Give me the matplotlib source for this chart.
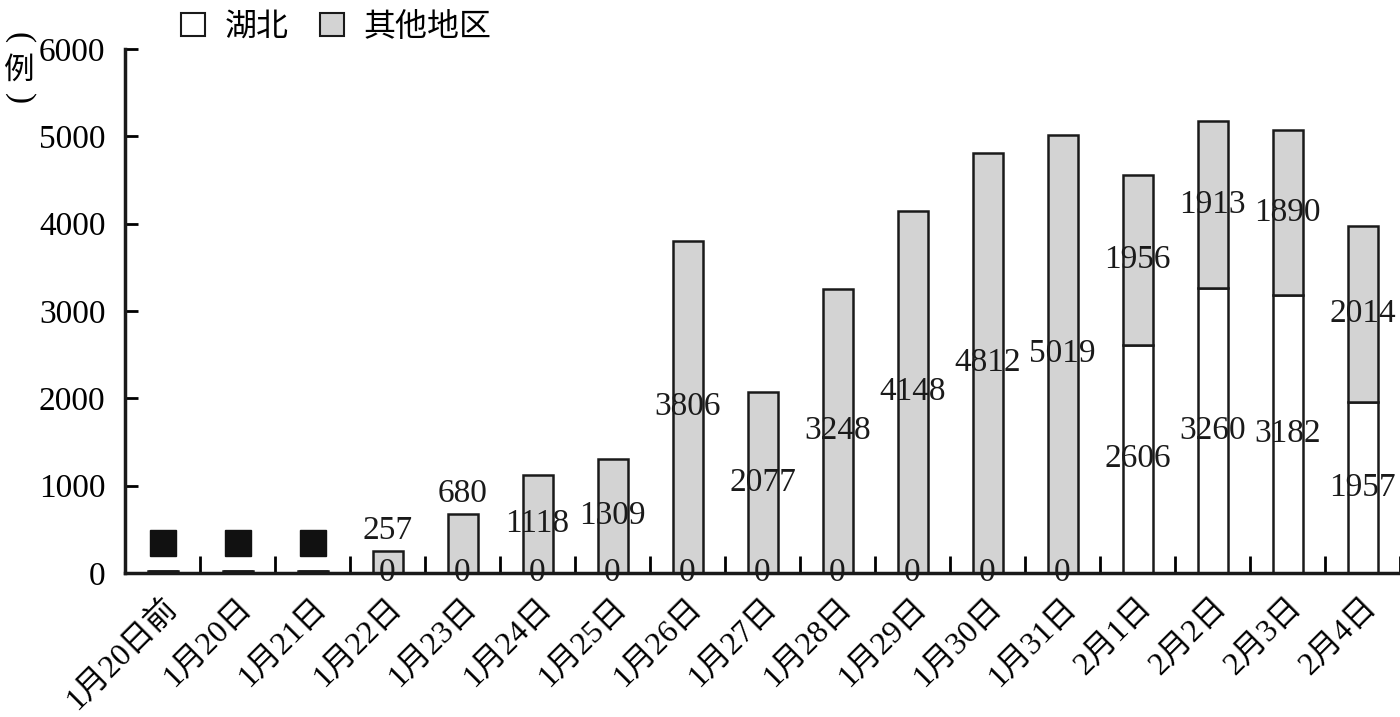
import matplotlib
matplotlib.use("Agg")
import matplotlib.pyplot as plt
from matplotlib.patches import Patch
from matplotlib.ticker import FixedLocator, NullFormatter

categories = ["1月20日前", "1月20日", "1月21日", "1月22日", "1月23日", "1月24日",
              "1月25日", "1月26日", "1月27日", "1月28日", "1月29日", "1月30日",
              "1月31日", "2月1日", "2月2日", "2月3日", "2月4日"]
hubei = [25, 25, 25, 0, 0, 0, 0, 0, 0, 0, 0, 0, 0, 2606, 3260, 3182, 1957]
others = [0, 0, 0, 257, 680, 1118, 1309, 3806, 2077, 3248, 4148, 4812, 5019,
          1956, 1913, 1890, 2014]
labelled = [False, False, False] + [True] * 14
redacted_y = [345, 345, 345]
yticks = [0, 1000, 2000, 3000, 4000, 5000, 6000]

serif = ["Liberation Serif", "Noto Sans CJK SC"]
plt.rcParams["font.family"] = serif

fig = plt.figure(figsize=(14, 7.17), dpi=100)
ax = fig.add_axes([0.0893, 0.2008, 0.9107, 0.7309])

x = list(range(len(categories)))
w = 0.4
ax.bar(x, hubei, width=w, color="white", edgecolor="#1a1a1a", linewidth=1.8, zorder=2)
ax.bar(x, others, width=w, bottom=hubei, color="#d3d3d3", edgecolor="#1a1a1a",
       linewidth=1.8, zorder=2)

fs = 24
for i in x:
    if not labelled[i]:
        continue
    h, o = hubei[i], others[i]
    ax.text(i, h / 2, str(h), ha="center", va="center", fontsize=fs,
            color="#1a1a1a", zorder=4)
    if o < 1000:
        ax.annotate(str(o), (i, h + o), xytext=(0, 3), textcoords="offset points",
                    ha="center", va="bottom", fontsize=fs, color="#1a1a1a", zorder=4)
    else:
        ax.text(i, h + o / 2, str(o), ha="center", va="center", fontsize=fs,
                color="#1a1a1a", zorder=4)

ax.plot(x[:3], redacted_y, linestyle="none", marker="s", markersize=19,
        color="#111111", zorder=5)

ax.set_xlim(-0.5, len(categories) - 0.5)
ax.set_ylim(0, 6000)
ax.set_yticks(yticks)
ax.set_yticklabels([str(v) for v in yticks], fontsize=fs)
ax.tick_params(axis="y", direction="in", length=9, width=2, pad=14)

ax.set_xticks(x)
ax.set_xticklabels(categories, rotation=45, ha="right", rotation_mode="anchor",
                   fontsize=23)
ax.tick_params(axis="x", which="major", length=0, pad=14)
ax.xaxis.set_minor_locator(FixedLocator([i + 0.5 for i in x]))
ax.xaxis.set_minor_formatter(NullFormatter())
ax.tick_params(axis="x", which="minor", direction="in", length=12, width=2)

for s in ["top", "right"]:
    ax.spines[s].set_visible(False)
for s in ["left", "bottom"]:
    ax.spines[s].set_linewidth(2.5)
    ax.spines[s].set_color("#1a1a1a")

cjk = ["Noto Sans CJK SC"]
fig.text(0.0135, 0.947, "(", fontsize=24, family=["Liberation Serif"], rotation=-90,
         ha="center", va="center")
fig.text(0.0135, 0.902, "例", fontsize=22, family=cjk, ha="center", va="center")
fig.text(0.0135, 0.862, ")", fontsize=24, family=["Liberation Serif"], rotation=-90,
         ha="center", va="center")

handles = [Patch(facecolor="white", edgecolor="#1a1a1a", linewidth=1.5, label="湖北"),
           Patch(facecolor="#d3d3d3", edgecolor="#1a1a1a", linewidth=1.5, label="其他地区")]
fig.legend(handles=handles, loc="upper left", bbox_to_anchor=(0.109, 1.025), ncol=2,
           frameon=False, handlelength=0.75, handleheight=0.75,
           handletextpad=0.6, columnspacing=1.0,
           prop={"family": cjk, "size": 23})

fig.savefig("out.png", dpi=100)
